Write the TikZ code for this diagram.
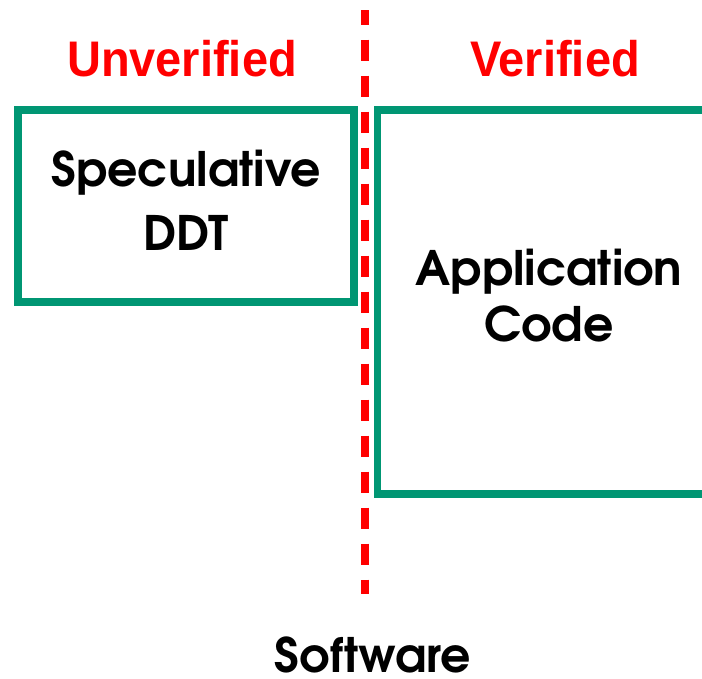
\documentclass[tikz,border=0pt]{standalone}
\usepackage{fontspec}
\newfontfamily\advfont{texgyreadventor-bold.otf}
\newfontfamily\redfont{Liberation Sans}[FakeStretch=0.94]
\definecolor{boxgreen}{RGB}{0,150,115}
\definecolor{divred}{RGB}{255,0,0}
\begin{document}
\begin{tikzpicture}[x=1pt,y=-1pt,
  greenbox/.style={draw=boxgreen,line width=7.5pt,rectangle,inner sep=0pt},
  blacktext/.style={font=\advfont\fontsize{47.5}{47.5}\selectfont,inner sep=0pt,anchor=base,text=black},
  redtext/.style={font=\redfont\bfseries\fontsize{50}{50}\selectfont,inner sep=0pt,anchor=base,text=divred},
  divider/.style={draw=divred,line width=7.5pt,dash pattern=on 21pt off 15pt,dash phase=6.4pt}]
\useasboundingbox (0,0) rectangle (702,678);
\node[greenbox,minimum width=336pt,minimum height=192pt] (spec) at (186,206) {};
\node[greenbox,minimum width=343pt,minimum height=384pt] (app) at (549,302) {};
\coordinate (dtop) at (365,10);
\coordinate (dbot) at (365,594);
\draw[divider] (dtop) -- (dbot);
\node[redtext] (unv) at (182,76) {Unverified};
\node[redtext] (ver) at (555,76) {Verified};
\node[blacktext] (l1) at (186,186) {Speculative};
\node[blacktext] (l2) at (186,250) {DDT};
\node[blacktext] (l3) at (549,285) {Application};
\node[blacktext] (l4) at (549,341) {Code};
\node[blacktext] (sw) at (373,672) {Software};
\end{tikzpicture}
\end{document}
